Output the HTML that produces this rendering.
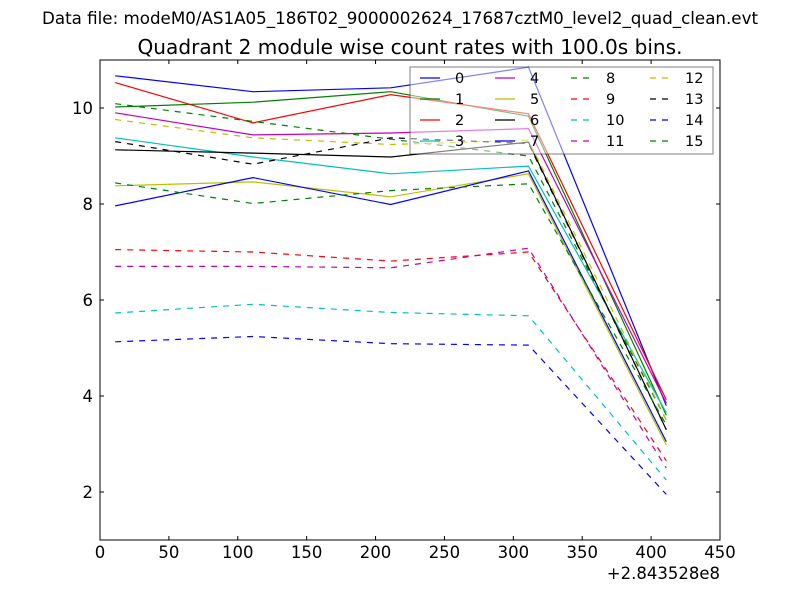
<!DOCTYPE html>
<html><head><meta charset="utf-8"><style>
body{margin:0;background:#fff;}
svg text{font-family:"DejaVu Sans","Liberation Sans",sans-serif;}
</style></head><body>
<svg id="chart" width="800" height="600" xmlns="http://www.w3.org/2000/svg">
<rect width="800" height="600" fill="#fff"/>
<text x="400" y="24" font-size="16.6" text-anchor="middle" textLength="716" lengthAdjust="spacingAndGlyphs">Data file: modeM0/AS1A05_186T02_9000002624_17687cztM0_level2_quad_clean.evt</text>
<text x="410" y="54" font-size="20" text-anchor="middle" textLength="545" lengthAdjust="spacingAndGlyphs">Quadrant 2 module wise count rates with 100.0s bins.</text>
<g id="plot"></g>
<g id="axes"></g>
<g id="legend"></g>
<text x="720" y="579" font-size="16.5" text-anchor="end">+2.843528e8</text>
</svg>
<script>
const times = [11, 111, 211, 311, 411];
const series0 = [10.67, 10.34, 10.42, 10.85, 3.8];
const series1 = [10.02, 10.12, 10.34, 9.83, 3.6];
const series2 = [10.53, 9.69, 10.28, 9.88, 3.92];
const series3 = [9.38, 8.98, 8.63, 8.79, 3.65];
const series4 = [9.9, 9.44, 9.48, 9.57, 3.85];
const series5 = [8.38, 8.46, 8.15, 8.63, 2.98];
const series6 = [9.13, 9.06, 8.98, 9.29, 3.3];
const series7 = [7.96, 8.55, 7.99, 8.69, 3.05];
const series8 = [10.09, 9.72, 9.35, 9.0, 3.5];
const series9 = [7.05, 7.0, 6.81, 7.0, 2.65];
const series10 = [5.73, 5.91, 5.74, 5.67, 2.25];
const series11 = [6.7, 6.7, 6.67, 7.08, 2.5];
const series12 = [9.76, 9.38, 9.24, 9.33, 3.5];
const series13 = [9.3, 8.83, 9.38, 9.26, 3.3];
const series14 = [5.13, 5.24, 5.09, 5.06, 1.95];
const series15 = [8.44, 8.01, 8.28, 8.42, 3.4];
const seriesLabels = ["0","1","2","3","4","5","6","7","8","9","10","11","12","13","14","15"];
const xTicks = [0,50,100,150,200,250,300,350,400,450];
const yTicks = [2,4,6,8,10];

const allSeries=[series0,series1,series2,series3,series4,series5,series6,series7,series8,series9,series10,series11,series12,series13,series14,series15];
const colors=["#0000ff","#008000","#ff0000","#00bfbf","#bf00bf","#bfbf00","#000000"];
const NS="http://www.w3.org/2000/svg";
const L=100,R=720,T=60,B=540;
const xs=v=>L+(v-0)/(450-0)*(R-L);
const ys=v=>B-(v-1)/(11-1)*(B-T);
function mk(tag,attrs,parent){const e=document.createElementNS(NS,tag);for(const k in attrs)e.setAttribute(k,attrs[k]);parent.appendChild(e);return e;}
const plot=document.getElementById('plot');
allSeries.forEach((s,i)=>{
  const d=s.map((v,j)=>(j?'L':'M')+xs(times[j]).toFixed(1)+','+ys(v).toFixed(1)).join(' ');
  const p=mk('path',{d:d,fill:'none',stroke:colors[i%7],'stroke-width':1.2},plot);
  if(i>=8)p.setAttribute('stroke-dasharray','6,6');
  
  
});
const axes=document.getElementById('axes');
const frame=mk('rect',{x:L,y:T,width:R-L,height:B-T,fill:'none',stroke:'#000','stroke-width':1},axes);


xTicks.forEach(t=>{
  const x=xs(t);
  mk('line',{x1:x,y1:B,x2:x,y2:B-4,stroke:'#000'},axes);
  mk('line',{x1:x,y1:T,x2:x,y2:T+4,stroke:'#000'},axes);
  const tx=mk('text',{x:x,y:B+18,'font-size':16.5,'text-anchor':'middle'},axes);
  tx.textContent=t;
  
  
});
yTicks.forEach(t=>{
  const y=ys(t);
  mk('line',{x1:L,y1:y,x2:L+4,y2:y,stroke:'#000'},axes);
  mk('line',{x1:R,y1:y,x2:R-4,y2:y,stroke:'#000'},axes);
  const tx=mk('text',{x:L-7,y:y+6,'font-size':16.5,'text-anchor':'end'},axes);
  tx.textContent=t;
  
  
});
const lg=document.getElementById('legend');
const box=mk('rect',{x:410,y:67,width:303,height:87,fill:'#fff','fill-opacity':0.5,stroke:'#000','stroke-opacity':0.5},lg);


const colX=[420,495,571,650];
seriesLabels.forEach((lab,i)=>{
  const c=Math.floor(i/4),r=i%4;
  const y=78+r*21;
  const g=mk('g',{},lg);
  
  
  const ln=mk('line',{x1:colX[c],y1:y,x2:colX[c]+20,y2:y,stroke:colors[i%7],'stroke-width':1.2},g);
  if(i>=8)ln.setAttribute('stroke-dasharray','6,6');
  const tx=mk('text',{x:colX[c]+35,y:y+5,'font-size':14.5},g);
  tx.textContent=lab;
});
</script>
</body></html>
